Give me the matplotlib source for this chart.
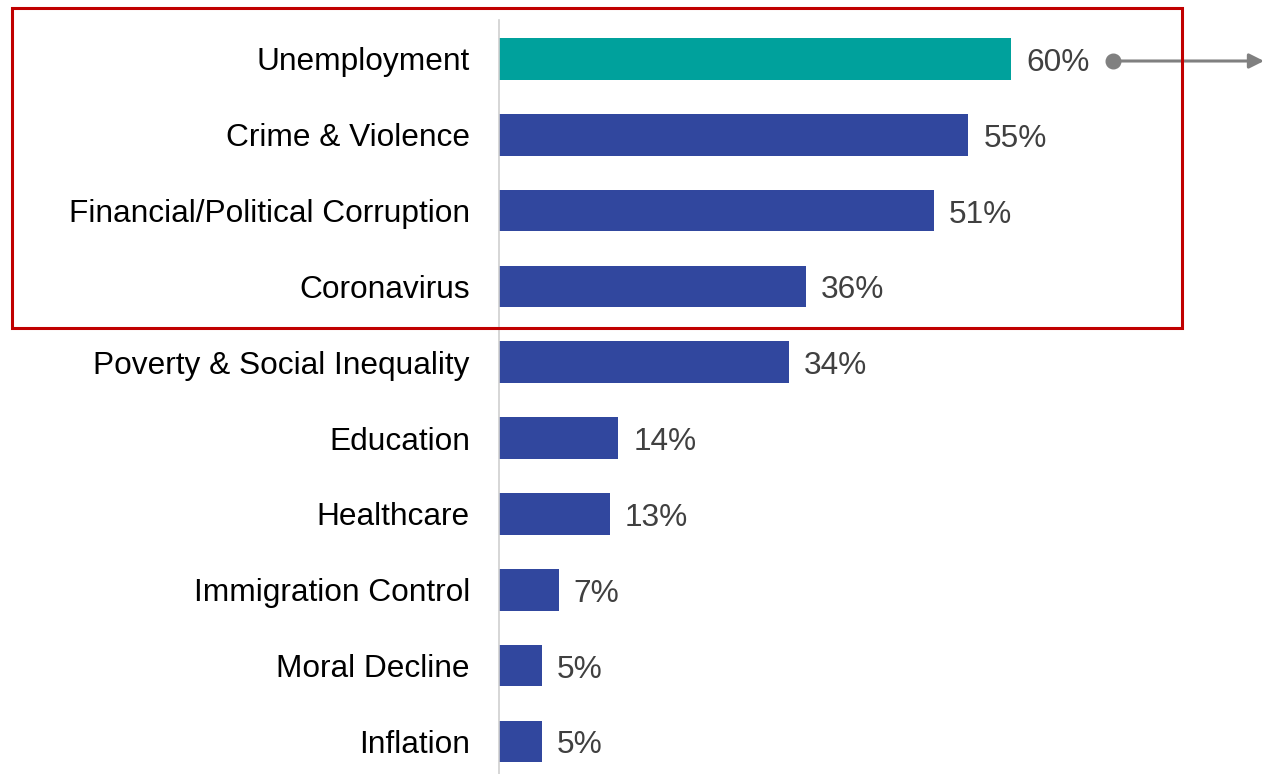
import matplotlib.pyplot as plt
from matplotlib.patches import Rectangle

plt.rcParams["font.family"] = ["Liberation Sans", "DejaVu Sans"]

categories = [
    "Unemployment",
    "Crime & Violence",
    "Financial/Political Corruption",
    "Coronavirus",
    "Poverty & Social Inequality",
    "Education",
    "Healthcare",
    "Immigration Control",
    "Moral Decline",
    "Inflation",
]
values = [60, 55, 51, 36, 34, 14, 13, 7, 5, 5]
highlight = ["Unemployment"]

TEAL = "#00A19C"
BLUE = "#31479E"
RED = "#C00000"
GREY = "#808080"

W, H = 1264, 774
fig = plt.figure(figsize=(W / 100, H / 100), dpi=100)
ax = fig.add_axes([499 / W, 0.0, 1 - 499 / W, (H - 20) / H])

colors = [TEAL if c in highlight else BLUE for c in categories]
ypos = list(range(len(categories)))
ax.barh(ypos, values, height=0.55, color=colors)

ax.set_xlim(0, (W - 499) / (512 / 60))
ax.set_ylim(9.43, -0.514)

ax.set_yticks(ypos)
ax.set_yticklabels(categories, fontsize=22.8, color="#000000")
ax.tick_params(axis="y", length=0, pad=21)
ax.set_xticks([])

for s in ["top", "right", "bottom"]:
    ax.spines[s].set_visible(False)
ax.spines["left"].set_color("#D0D0D0")
ax.spines["left"].set_linewidth(1.2)

for y, v in zip(ypos, values):
    ax.annotate(
        f"{v}%",
        xy=(v, y),
        xytext=(15, -4),
        textcoords="offset pixels",
        ha="left",
        va="center",
        fontsize=22.8,
        color="#404040",
    )

# box around the top four issues
fig.patches.append(
    Rectangle(
        (12 / W, 1 - 328 / H),
        (1182 - 12) / W,
        (328 - 8) / H,
        transform=fig.transFigure,
        fill=False,
        edgecolor=RED,
        linewidth=2.2,
    )
)

# pointer arrow from the leading bar
fig.add_artist(
    plt.Line2D(
        [1113 / W], [1 - 61 / H], marker="o", markersize=10.5,
        color=GREY, transform=fig.transFigure,
    )
)
ax.annotate(
    "",
    xy=(1.0, 1 - 61 / H),
    xytext=(1113 / W, 1 - 61 / H),
    xycoords="figure fraction",
    textcoords="figure fraction",
    arrowprops=dict(arrowstyle="-|>", color=GREY, lw=2.2, mutation_scale=22,
                    shrinkA=0, shrinkB=0),
    annotation_clip=False,
)

fig.savefig("out.png", dpi=100)
